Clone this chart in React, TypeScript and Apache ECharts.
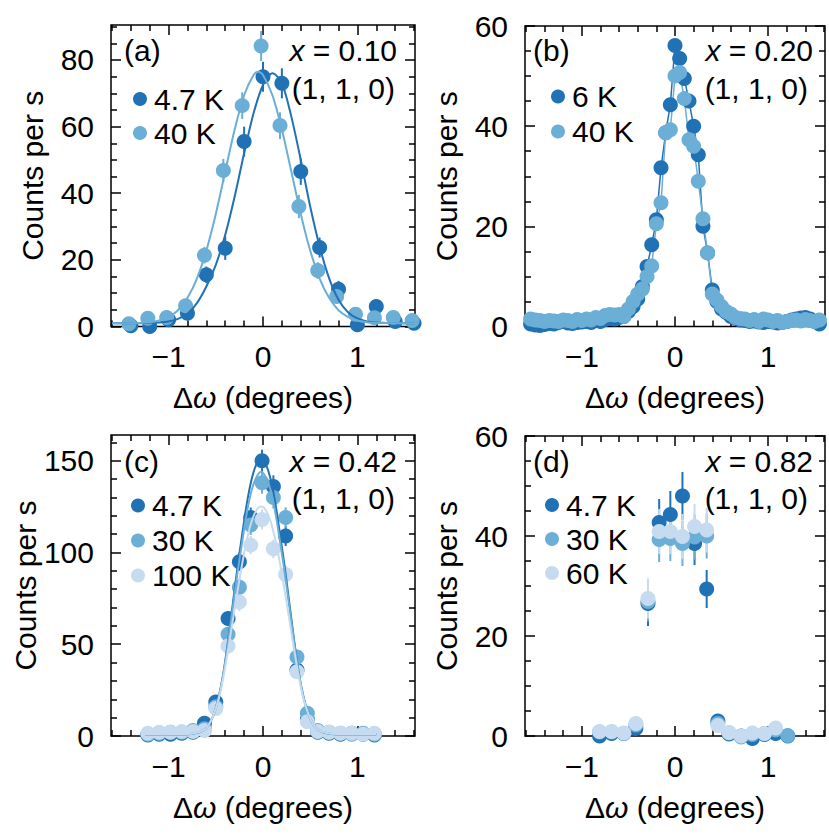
import React, { useEffect, useRef } from "react";
import * as echarts from "echarts";

const DARK = "#2171b5";
const MED = "#6baed6";
const LIGHT = "#c6dbef";
const FONT = "'Liberation Sans', Arial, Helvetica, sans-serif";
const FS = 30;

// ---------- tick values ----------
const xMajorTicks = [-1, 0, 1];
const xMinorTicks = [-1.6, -1.4, -1.2, -0.8, -0.6, -0.4, -0.2, 0.2, 0.4, 0.6, 0.8, 1.2, 1.4, 1.6];
const yMajorA = [0, 20, 40, 60, 80];
const yMinorA = [5, 10, 15, 25, 30, 35, 45, 50, 55, 65, 70, 75, 85, 90];
const yMajor60 = [0, 20, 40, 60];
const yMinor60 = [5, 10, 15, 25, 30, 35, 45, 50, 55];
const yMajorC = [0, 50, 100, 150];
const yMinorC = [10, 20, 30, 40, 60, 70, 80, 90, 110, 120, 130, 140, 160];

// ---------- panel (a) x = 0.10 ----------
const aDarkX = [-1.4, -1.2, -1.0, -0.8, -0.6, -0.4, -0.2, 0.0, 0.2, 0.4, 0.6, 0.8, 1.0, 1.2, 1.4, 1.6];
const aDarkY = [0.2, 0.0, 2.0, 4.0, 15.5, 23.5, 55.5, 75.0, 73.0, 46.5, 23.7, 11.2, 0.5, 6.0, 1.5, 1.0];
const aDarkErr = [0.5, 0.5, 0.7, 1.2, 2.5, 3.5, 4.5, 4.5, 4.5, 4.0, 3.0, 2.5, 0.6, 1.5, 0.8, 0.8];
const aLightX = [-1.42, -1.22, -1.02, -0.82, -0.62, -0.42, -0.22, -0.02, 0.18, 0.38, 0.58, 0.78, 0.98, 1.18, 1.38, 1.58];
const aLightY = [0.8, 2.5, 2.7, 6.2, 21.4, 46.8, 66.3, 84.2, 60.3, 36.0, 16.8, 9.0, 3.7, 2.6, 2.7, 1.8];
const aLightErr = [0.8, 1.0, 1.0, 1.5, 2.5, 3.5, 4.0, 4.5, 4.0, 3.5, 2.5, 2.0, 1.5, 1.2, 1.2, 1.0];
const aDarkCurveX = [-1.6, -1.4, -1.2, -1.1, -1.0, -0.9, -0.8, -0.7, -0.6, -0.5, -0.4, -0.3, -0.2, -0.1, 0.0, 0.1, 0.2, 0.3, 0.4, 0.5, 0.6, 0.7, 0.8, 0.9, 1.0, 1.1, 1.2, 1.4, 1.6];
const aDarkCurveY = [1.0, 1.0, 1.1, 1.2, 1.5, 2.3, 3.8, 7.0, 12.0, 18.5, 27.5, 39.0, 52.0, 64.0, 72.5, 76.0, 73.0, 63.0, 50.0, 36.0, 24.0, 14.5, 8.0, 4.3, 2.4, 1.5, 1.2, 1.0, 1.0];
const aLightCurveX = [-1.6, -1.4, -1.2, -1.1, -1.0, -0.9, -0.8, -0.7, -0.6, -0.5, -0.4, -0.3, -0.2, -0.1, -0.05, 0.0, 0.1, 0.2, 0.3, 0.4, 0.5, 0.6, 0.7, 0.8, 0.9, 1.0, 1.1, 1.2, 1.4, 1.6];
const aLightCurveY = [1.0, 1.0, 1.3, 1.8, 2.9, 4.9, 8.6, 14.4, 22.8, 33.8, 46.5, 59.1, 69.4, 75.5, 76.5, 75.5, 69.4, 59.1, 46.5, 33.8, 22.8, 14.4, 8.6, 4.9, 2.9, 1.8, 1.3, 1.1, 1.0, 1.0];

// ---------- panel (b) x = 0.20 ----------
const bX = [-1.55, -1.5, -1.45, -1.4, -1.35, -1.3, -1.25, -1.2, -1.15, -1.1, -1.05, -1.0, -0.95, -0.9, -0.85, -0.8, -0.75, -0.7, -0.65, -0.6, -0.55, -0.5, -0.45, -0.4, -0.35, -0.3, -0.25, -0.2, -0.15, -0.1, -0.05, 0.0, 0.05, 0.1, 0.15, 0.2, 0.25, 0.3, 0.35, 0.4, 0.45, 0.5, 0.55, 0.6, 0.65, 0.7, 0.75, 0.8, 0.85, 0.9, 0.95, 1.0, 1.05, 1.1, 1.15, 1.2, 1.25, 1.3, 1.35, 1.4, 1.45, 1.5, 1.55];
const bDarkY = [0.5, 0.3, 0.2, 0.4, 0.6, 0.5, 0.8, 1.0, 0.7, 0.6, 0.8, 0.9, 1.0, 0.8, 1.2, 1.0, 1.4, 1.6, 1.5, 1.8, 2.0, 3.0, 4.0, 5.5, 8.0, 12.0, 16.3, 21.3, 31.7, 38.7, 44.3, 56.1, 53.5, 49.5, 45.0, 40.0, 34.3, 20.0, 14.7, 7.3, 5.0, 3.5, 2.8, 2.0, 1.6, 1.3, 1.2, 1.0, 1.1, 0.9, 0.8, 1.0, 0.9, 0.7, 0.8, 1.0, 1.3, 1.5, 1.7, 1.8, 1.5, 1.0, 0.5];
const bLightY = [1.5, 1.3, 1.2, 1.0, 1.2, 1.1, 1.0, 1.3, 1.2, 1.0, 1.4, 1.2, 1.5, 1.3, 1.8, 1.6, 2.2, 2.4, 2.3, 2.4, 2.0, 3.5, 5.0, 6.5, 7.5, 10.0, 12.1, 20.5, 24.7, 38.7, 39.3, 50.0, 50.7, 45.5, 37.3, 36.0, 29.0, 21.5, 14.7, 6.5, 5.3, 4.0, 3.0, 2.5, 1.8, 1.6, 1.5, 1.2, 1.4, 1.0, 1.5, 1.3, 1.0, 1.2, 0.8, 1.0, 1.2, 1.3, 1.1, 1.4, 1.2, 1.0, 1.3];

// ---------- panel (c) x = 0.42 ----------
const cX = [-1.22, -1.1, -0.98, -0.86, -0.74, -0.62, -0.5, -0.37, -0.25, -0.13, -0.01, 0.11, 0.24, 0.36, 0.47, 0.58, 0.7, 0.82, 0.94, 1.06, 1.18];
const cDarkY = [0.5, 1.0, 1.0, 1.5, 2.0, 7.0, 18.5, 64.0, 95.0, 119.0, 150.0, 136.0, 109.0, 36.0, 9.0, 2.0, 1.5, 1.0, 1.5, 1.0, 0.5];
const cDarkErr = [0.8, 0.8, 0.8, 0.8, 1.0, 1.5, 2.5, 4.0, 5.0, 5.5, 6.0, 6.0, 5.5, 3.5, 2.0, 1.0, 0.8, 0.8, 0.8, 0.8, 0.8];
const cMedY = [1.0, 1.5, 2.0, 2.0, 3.0, 4.0, 16.0, 55.5, 81.0, 115.0, 138.0, 130.0, 119.0, 43.0, 12.4, 3.0, 2.0, 1.5, 1.0, 1.5, 1.0];
const cMedErr = [0.8, 0.8, 0.8, 0.8, 1.0, 1.2, 2.5, 4.0, 5.0, 5.5, 6.0, 6.0, 5.5, 3.5, 2.0, 1.0, 0.8, 0.8, 0.8, 0.8, 0.8];
const cLightY = [1.5, 2.0, 2.0, 2.5, 2.5, 3.0, 15.0, 49.0, 73.0, 104.0, 118.0, 102.0, 88.0, 35.0, 7.8, 2.5, 2.0, 1.5, 1.5, 1.0, 1.5];
const cLightErr = [0.8, 0.8, 0.8, 0.8, 1.0, 1.2, 2.5, 4.0, 5.0, 5.0, 5.5, 5.0, 5.0, 3.5, 2.0, 1.0, 0.8, 0.8, 0.8, 0.8, 0.8];
const cCurveX = [-1.25, -1.0, -0.82, -0.72, -0.62, -0.57, -0.52, -0.47, -0.42, -0.37, -0.32, -0.27, -0.22, -0.17, -0.12, -0.07, -0.02, 0.03, 0.08, 0.13, 0.18, 0.23, 0.28, 0.33, 0.38, 0.43, 0.48, 0.53, 0.58, 0.68, 0.78, 1.0, 1.2];
const cDarkCurveY = [1.0, 1.0, 1.0, 1.5, 3.5, 6.5, 12.0, 21.0, 34.0, 52.0, 72.0, 92.0, 110.0, 127.0, 140.0, 148.0, 151.0, 148.0, 140.0, 127.0, 110.0, 92.0, 72.0, 52.0, 34.0, 21.0, 12.0, 6.5, 3.5, 1.5, 1.0, 1.0, 1.0];
const cMedCurveY = [1.0, 1.0, 1.0, 1.5, 3.5, 6.5, 12.0, 21.0, 34.0, 51.0, 70.0, 89.0, 106.0, 122.0, 134.0, 141.0, 144.0, 141.0, 134.0, 122.0, 106.0, 89.0, 70.0, 51.0, 34.0, 21.0, 12.0, 6.5, 3.5, 1.5, 1.0, 1.0, 1.0];
const cLightCurveY = [1.1, 1.1, 1.1, 1.6, 3.5, 6.5, 12.0, 20.0, 32.0, 47.0, 63.0, 79.0, 94.0, 107.0, 117.0, 123.0, 125.0, 123.0, 117.0, 107.0, 94.0, 79.0, 63.0, 47.0, 32.0, 20.0, 12.0, 6.5, 3.5, 1.6, 1.1, 1.1, 1.1];

// ---------- panel (d) x = 0.82 ----------
const dX = [-0.81, -0.68, -0.55, -0.42, -0.29, -0.17, -0.05, 0.08, 0.21, 0.34, 0.46, 0.58, 0.71, 0.83, 0.96, 1.08, 1.21];
const dDarkY = [0.0, 0.5, 0.5, 1.5, 26.5, 42.7, 44.3, 48.0, 38.5, 29.4, 3.0, 0.4, 0.0, -0.5, 0.3, 0.5, 0.0];
const dDarkErr = [0.8, 0.8, 0.8, 1.0, 4.5, 4.7, 4.7, 4.8, 4.3, 3.8, 1.2, 0.8, 0.8, 0.8, 0.8, 0.8, 0.8];
const dMedY = [0.8, 0.8, 0.5, 2.2, 26.9, 39.3, 39.5, 38.5, 39.8, 40.0, 2.5, 0.6, -0.2, 0.3, 0.5, 1.2, 0.1];
const dMedErr = [0.8, 0.8, 0.8, 1.0, 4.0, 4.5, 4.5, 4.5, 4.5, 4.5, 1.0, 0.8, 0.8, 0.8, 0.8, 0.8, 0.8];
const dLightY = [0.9, 0.9, 0.6, 2.5, 27.5, 40.9, 40.9, 39.9, 41.9, 41.2, 2.1, 0.7, 0.0, 0.6, 0.5, 1.6, null];
const dLightErr = [0.8, 0.8, 0.8, 1.0, 4.0, 4.5, 4.5, 4.5, 4.5, 4.5, 1.0, 0.8, 0.8, 0.8, 0.8, 0.8, 0.8];

const fmtTick = (v: number) => (v < 0 ? "\u2212" + Math.abs(v) : String(v));

function buildOption() {
  const grids: any[] = [];
  const xAxes: any[] = [];
  const yAxes: any[] = [];
  const series: any[] = [];
  const legends: any[] = [];
  const graphics: any[] = [];

  const tickStyle = { color: "#000", width: 1.5 };
  const labelStyle = { fontSize: FS, fontFamily: FONT, color: "#000" };
  const noLine = { show: false, onZero: false };

  const addAxes = (p: number, ymax: number, yMaj: number[], yMin: number[]) => {
    const bx = {
      type: "value", gridIndex: p, min: -1.61, max: 1.61,
      axisLine: noLine, splitLine: { show: false }, axisLabel: { show: false },
    };
    xAxes.push({
      ...bx, position: "bottom",
      axisTick: { show: true, inside: true, length: 10, customValues: xMajorTicks, lineStyle: tickStyle },
      axisLabel: { show: true, customValues: xMajorTicks, formatter: fmtTick, margin: 15, ...labelStyle },
      name: "\u0394{i|\u03c9} (degrees)", nameLocation: "middle", nameGap: 56,
      nameTextStyle: { ...labelStyle, rich: { i: { ...labelStyle, fontStyle: "italic" } } },
    });
    xAxes.push({ ...bx, position: "bottom", axisTick: { show: true, inside: true, length: 6, customValues: xMinorTicks, lineStyle: tickStyle } });
    xAxes.push({ ...bx, position: "top", axisTick: { show: true, inside: true, length: 10, customValues: xMajorTicks, lineStyle: tickStyle } });
    xAxes.push({ ...bx, position: "top", axisTick: { show: true, inside: true, length: 6, customValues: xMinorTicks, lineStyle: tickStyle } });
    const by = {
      type: "value", gridIndex: p, min: 0, max: ymax,
      axisLine: noLine, splitLine: { show: false }, axisLabel: { show: false },
    };
    yAxes.push({
      ...by, position: "left",
      axisTick: { show: true, inside: true, length: 10, customValues: yMaj, lineStyle: tickStyle },
      axisLabel: { show: true, customValues: yMaj, margin: 17, ...labelStyle },
      name: "Counts per s", nameLocation: "middle", nameGap: 64, nameTextStyle: labelStyle,
    });
    yAxes.push({ ...by, position: "left", axisTick: { show: true, inside: true, length: 6, customValues: yMin, lineStyle: tickStyle } });
    yAxes.push({ ...by, position: "right", axisTick: { show: true, inside: true, length: 10, customValues: yMaj, lineStyle: tickStyle } });
    yAxes.push({ ...by, position: "right", axisTick: { show: true, inside: true, length: 6, customValues: yMin, lineStyle: tickStyle } });
  };

  const errSeries = (p: number, xs: number[], ys: (number | null)[], es: number[], color: string) => ({
    type: "custom", xAxisIndex: p * 4, yAxisIndex: p * 4, silent: true,
    data: xs.map((x, i) => [x, ys[i], es[i]]).filter((d) => d[1] != null).map((d: any) => [d[0], d[1] - d[2], d[1] + d[2]]),
    renderItem: (_params: any, api: any) => {
      const a = api.coord([api.value(0), api.value(1)]);
      const b = api.coord([api.value(0), api.value(2)]);
      return { type: "line", shape: { x1: a[0], y1: a[1], x2: b[0], y2: b[1] }, style: { stroke: color, lineWidth: 2 } };
    },
  });
  const scatSeries = (p: number, name: string, xs: number[], ys: (number | null)[], color: string) => ({
    type: "scatter", name, xAxisIndex: p * 4, yAxisIndex: p * 4, clip: false, silent: true,
    symbol: "circle", symbolSize: 15, itemStyle: { color, opacity: 1 },
    data: xs.map((x, i) => [x, ys[i]]).filter((d) => d[1] != null),
  });
  const curveSeries = (p: number, xs: number[], ys: number[], color: string) => ({
    type: "line", xAxisIndex: p * 4, yAxisIndex: p * 4, silent: true, clip: false,
    showSymbol: false, smooth: 0.3, lineStyle: { color, width: 2 },
    data: xs.map((x, i) => [x, ys[i]]),
  });
  const connSeries = (p: number, name: string, xs: number[], ys: number[], color: string) => ({
    type: "line", name, xAxisIndex: p * 4, yAxisIndex: p * 4, silent: true, clip: false,
    showSymbol: true, showAllSymbol: true, symbol: "circle", symbolSize: 15,
    itemStyle: { color, opacity: 1 }, lineStyle: { color, width: 1.5 },
    data: xs.map((x, i) => [x, ys[i]]),
  });

  const addTexts = (label: string, lx: number, ly: number, xval: string, rx1: number, ry1: number, rx2: number, ry2: number) => {
    const st = { fontSize: FS, fontFamily: FONT, fill: "#000" };
    graphics.push({ type: "text", x: lx, y: ly, style: { ...st, text: label, align: "left", verticalAlign: "middle" } });
    graphics.push({
      type: "text", x: rx1, y: ry1,
      style: { ...st, text: "{i|x} = " + xval, align: "right", verticalAlign: "middle", rich: { i: { fontSize: FS, fontFamily: FONT, fontStyle: "italic" } } },
    });
    graphics.push({ type: "text", x: rx2, y: ry2, style: { ...st, text: "(1, 1, 0)", align: "right", verticalAlign: "middle" } });
  };

  const addLegend = (left: number, top: number, names: string[], lh: number) => {
    legends.push({
      left, top, orient: "vertical", itemGap: 0, itemWidth: 14, itemHeight: 14, icon: "circle",
      selectedMode: false, data: names,
      textStyle: { fontSize: FS, fontFamily: FONT, color: "#000", lineHeight: lh, padding: [0, 0, 0, 2] },
    });
  };

  grids.push({ left: 111, top: 25, width: 304, height: 301.5 });
  grids.push({ left: 525, top: 26, width: 300, height: 300.5 });
  grids.push({ left: 111, top: 435, width: 304, height: 301 });
  grids.push({ left: 525, top: 436, width: 300, height: 300 });
  grids.forEach((g) => Object.assign(g, { show: true, borderColor: "#000", borderWidth: 1.5, backgroundColor: "transparent", containLabel: false }));

  addAxes(0, 90.5, yMajorA, yMinorA);
  addAxes(1, 60, yMajor60, yMinor60);
  addAxes(2, 164, yMajorC, yMinorC);
  addAxes(3, 60, yMajor60, yMinor60);

  // (a)
  series.push(errSeries(0, aDarkX, aDarkY, aDarkErr, DARK));
  series.push(scatSeries(0, "4.7 K", aDarkX, aDarkY, DARK));
  series.push(curveSeries(0, aDarkCurveX, aDarkCurveY, DARK));
  series.push(errSeries(0, aLightX, aLightY, aLightErr, MED));
  series.push(scatSeries(0, "40 K", aLightX, aLightY, MED));
  series.push(curveSeries(0, aLightCurveX, aLightCurveY, MED));
  // (b)
  series.push(connSeries(1, "6 K", bX, bDarkY, DARK));
  series.push(connSeries(1, "40 K", bX, bLightY, MED));
  // (c)
  series.push(errSeries(2, cX, cDarkY, cDarkErr, DARK));
  series.push(scatSeries(2, "4.7 K", cX, cDarkY, DARK));
  series.push(curveSeries(2, cCurveX, cDarkCurveY, DARK));
  series.push(errSeries(2, cX, cMedY, cMedErr, MED));
  series.push(scatSeries(2, "30 K", cX, cMedY, MED));
  series.push(curveSeries(2, cCurveX, cMedCurveY, MED));
  series.push(errSeries(2, cX, cLightY, cLightErr, LIGHT));
  series.push(scatSeries(2, "100 K", cX, cLightY, LIGHT));
  series.push(curveSeries(2, cCurveX, cLightCurveY, LIGHT));
  // (d)
  series.push(errSeries(3, dX, dDarkY, dDarkErr, DARK));
  series.push(scatSeries(3, "4.7 K", dX, dDarkY, DARK));
  series.push(errSeries(3, dX, dMedY, dMedErr, MED));
  series.push(scatSeries(3, "30 K", dX, dMedY, MED));
  series.push(errSeries(3, dX, dLightY, dLightErr, LIGHT));
  series.push(scatSeries(3, "60 K", dX, dLightY, LIGHT));

  addLegend(128, 77, ["4.7 K", "40 K"], 34);
  addLegend(546, 74, ["6 K", "40 K"], 35);
  addLegend(126, 483, ["4.7 K", "30 K", "100 K"], 35);
  addLegend(540, 483, ["4.7 K", "30 K", "60 K"], 34);

  addTexts("(a)", 124, 50, "0.10", 397, 50, 395, 88);
  addTexts("(b)", 533, 50, "0.20", 813, 50, 808, 88);
  addTexts("(c)", 124, 461, "0.42", 397, 461, 395, 498);
  addTexts("(d)", 533, 461, "0.82", 813, 461, 808, 498);

  return {
    animation: false,
    backgroundColor: "#fff",
    textStyle: { fontFamily: FONT },
    grid: grids,
    xAxis: xAxes,
    yAxis: yAxes,
    legend: legends,
    series,
    graphic: graphics,
  };
}

export default function App() {
  const ref = useRef<HTMLDivElement>(null);
  useEffect(() => {
    if (!ref.current) return;
    const chart = echarts.init(ref.current, null, { renderer: "svg", width: 829, height: 840 });
    chart.setOption(buildOption() as any);
    return () => chart.dispose();
  }, []);
  return <div ref={ref} style={{ position: "absolute", left: 0, top: 0, width: 829, height: 840 }} />;
}
